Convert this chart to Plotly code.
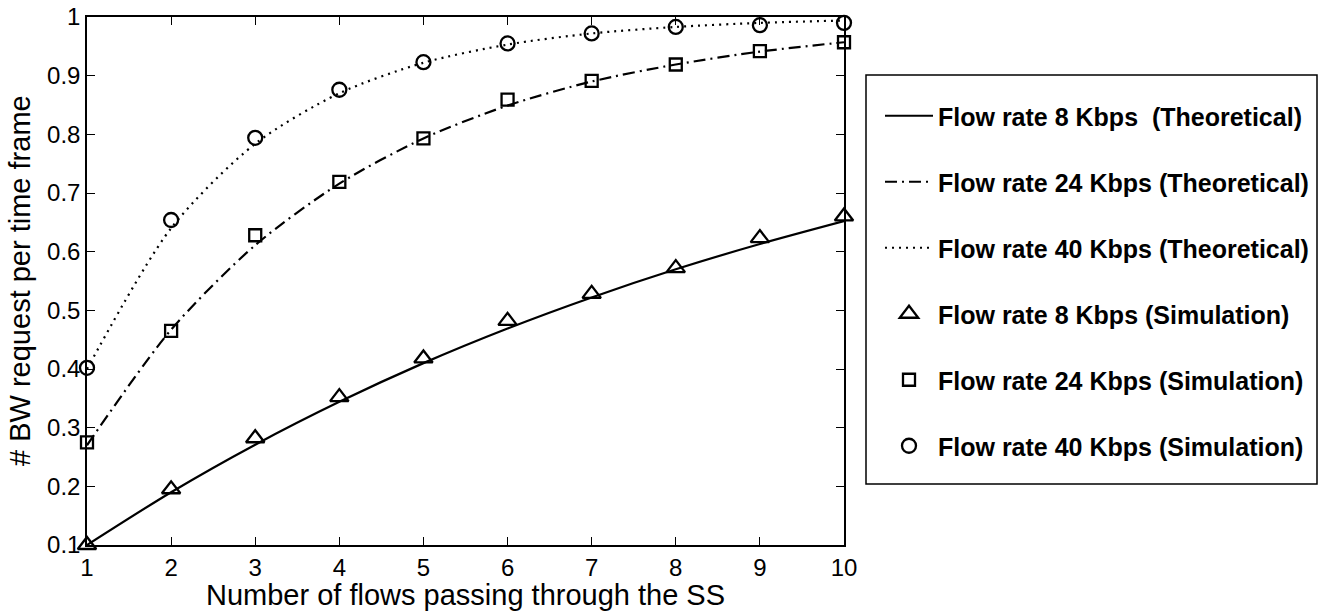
import plotly.graph_objects as go

flows = [1, 2, 3, 4, 5, 6, 7, 8, 9, 10]

theo_8 = [0.100, 0.190, 0.271, 0.344, 0.410, 0.469, 0.522, 0.570, 0.613, 0.652]
theo_24 = [0.270, 0.467, 0.611, 0.716, 0.793, 0.849, 0.890, 0.919, 0.941, 0.957]
theo_40 = [0.400, 0.640, 0.784, 0.870, 0.922, 0.953, 0.972, 0.983, 0.990, 0.994]

sim_8 = [0.100, 0.195, 0.282, 0.352, 0.418, 0.482, 0.528, 0.572, 0.623, 0.660]
sim_24 = [0.275, 0.465, 0.628, 0.719, 0.793, 0.859, 0.891, 0.919, 0.942, 0.957]
sim_40 = [0.402, 0.654, 0.794, 0.876, 0.923, 0.955, 0.972, 0.983, 0.986, 0.990]

y_ticks = [0.1, 0.2, 0.3, 0.4, 0.5, 0.6, 0.7, 0.8, 0.9, 1.0]
y_tick_labels = ["0.1", "0.2", "0.3", "0.4", "0.5", "0.6", "0.7", "0.8", "0.9", "1"]

names = [
    "Flow rate 8 Kbps  (Theoretical)",
    "Flow rate 24 Kbps (Theoretical)",
    "Flow rate 40 Kbps (Theoretical)",
    "Flow rate 8 Kbps (Simulation)",
    "Flow rate 24 Kbps (Simulation)",
    "Flow rate 40 Kbps (Simulation)",
]

W, H = 1321, 613
L, R, T, B = 87, 844, 17, 545

fig = go.Figure()

theo = [(theo_8, "solid"), (theo_24, "12px,5px,2px,5px"), (theo_40, "2px,5px")]
for i, (ys, dash) in enumerate(theo):
    fig.add_trace(go.Scatter(
        x=flows, y=ys, mode="lines", name=names[i],
        line=dict(color="black", width=2.2, dash=dash, shape="spline", smoothing=0.8),
        legendgroup=f"g{i}",
    ))

sims = [(sim_8, "triangle-up-open", 16), (sim_24, "square-open", 12), (sim_40, "circle-open", 14)]
for j, (ys, sym, sz) in enumerate(sims):
    fig.add_trace(go.Scatter(
        x=flows, y=ys, mode="markers", name=names[3 + j],
        marker=dict(symbol=sym, size=sz, color="black", line=dict(color="black", width=2.3)),
        legendgroup=f"g{3 + j}", cliponaxis=False,
    ))

pw = R - L
ph = B - T

fig.update_layout(
    width=W, height=H,
    margin=dict(l=L, r=W - R, t=T, b=H - B, pad=0, autoexpand=False),
    paper_bgcolor="white", plot_bgcolor="white",
    font=dict(family="Liberation Sans, Arial, sans-serif", color="black", size=24),
    showlegend=True,
    legend=dict(
        xref="container", yref="container",
        x=880 / W, y=(H - 93) / H, xanchor="left", yanchor="top",
        bgcolor="rgba(0,0,0,0)", borderwidth=0, maxheight=600,
        font=dict(family="Liberation Sans, Arial, sans-serif", size=25, color="black", weight="bold"),
        tracegroupgap=30.5, traceorder="grouped", itemwidth=48,
    ),
    xaxis=dict(
        range=[1, 10], tickmode="array", tickvals=flows, ticktext=[str(v) for v in flows],
        showgrid=False, zeroline=False, showline=True, linecolor="black", linewidth=1.5,
        mirror="allticks", ticks="inside", ticklen=8, tickwidth=1, tickcolor="black",
        tickfont=dict(size=24), ticklabelstandoff=0,
    ),
    yaxis=dict(
        range=[0.1, 1], tickmode="array", tickvals=y_ticks, ticktext=y_tick_labels,
        showgrid=False, zeroline=False, showline=True, linecolor="black", linewidth=1.5,
        mirror="allticks", ticks="inside", ticklen=8, tickwidth=1, tickcolor="black",
        tickfont=dict(size=24), ticklabelstandoff=0,
    ),
    shapes=[dict(
        type="rect", xref="paper", yref="paper",
        x0=(866 - L) / pw, x1=(1317 - L) / pw,
        y0=(B - 484) / ph, y1=(B - 75) / ph,
        line=dict(color="black", width=1.5), fillcolor="rgba(0,0,0,0)", layer="below",
    )],
    annotations=[
        dict(text="Number of flows passing through the SS", xref="paper", yref="paper",
             x=0.5, y=(B - 595) / ph, xanchor="center", yanchor="middle",
             showarrow=False, font=dict(size=29)),
        dict(text="# BW request per time frame", xref="paper", yref="paper",
             x=(20 - L) / pw, y=0.5, xanchor="center", yanchor="middle",
             showarrow=False, textangle=-90, font=dict(size=29)),
    ],
)

fig.write_html("out.html")
